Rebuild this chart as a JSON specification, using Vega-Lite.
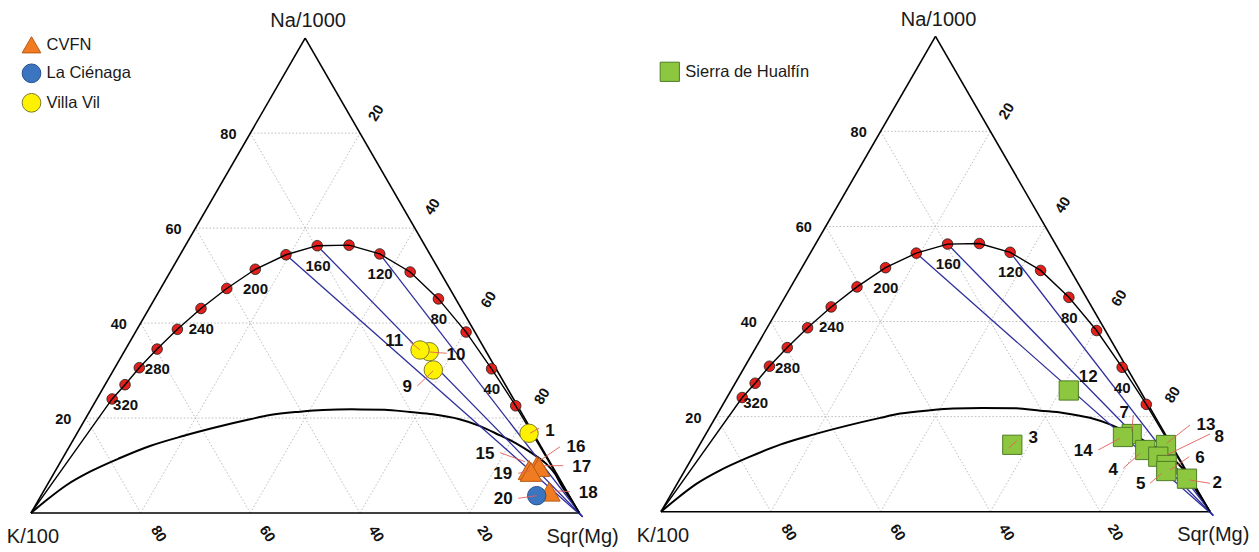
{
  "$schema": "https://vega.github.io/schema/vega-lite/v6.json",
  "padding": 0,
  "spacing": 1,
  "background": "white",
  "config": {"view": {"stroke": null}, "text": {"font": "Liberation Sans"}},
  "datasets": {
    "grid": [
      {"x": 10, "y": 17.32, "x2": 90, "y2": 17.32},
      {"x": 20, "y": 34.64, "x2": 80, "y2": 34.64},
      {"x": 30, "y": 51.96, "x2": 70, "y2": 51.96},
      {"x": 40, "y": 69.28, "x2": 60, "y2": 69.28},
      {"x": 80, "y": 0, "x2": 40, "y2": 69.28},
      {"x": 60, "y": 0, "x2": 30, "y2": 51.96},
      {"x": 40, "y": 0, "x2": 20, "y2": 34.64},
      {"x": 20, "y": 0, "x2": 10, "y2": 17.32},
      {"x": 20, "y": 0, "x2": 60, "y2": 69.28},
      {"x": 40, "y": 0, "x2": 70, "y2": 51.96},
      {"x": 60, "y": 0, "x2": 80, "y2": 34.64},
      {"x": 80, "y": 0, "x2": 90, "y2": 17.32}
    ],
    "frame": [
      {"x": 0, "y": 0, "x2": 100, "y2": 0},
      {"x": 100, "y": 0, "x2": 50, "y2": 86.6},
      {"x": 50, "y": 86.6, "x2": 0, "y2": 0}
    ],
    "immature": [
      {"x": 0, "y": 0}, {"x": 2.86, "y": 2.37}, {"x": 6.51, "y": 5.11}, {"x": 10.76, "y": 7.53},
      {"x": 16.23, "y": 10.03}, {"x": 21.7, "y": 12.22}, {"x": 27.72, "y": 14.04}, {"x": 33.92, "y": 15.68},
      {"x": 39.94, "y": 17.09}, {"x": 43.59, "y": 17.87}, {"x": 49.06, "y": 18.48}, {"x": 53.26, "y": 18.79},
      {"x": 58.5, "y": 18.9}, {"x": 64.5, "y": 18.85}, {"x": 69.12, "y": 18.4}, {"x": 73.28, "y": 18.0},
      {"x": 78.14, "y": 17.1}, {"x": 81.79, "y": 15.9}, {"x": 85.43, "y": 14.2}, {"x": 88.47, "y": 12.7},
      {"x": 91.2, "y": 11.0}, {"x": 93.93, "y": 9.0}, {"x": 95.6, "y": 7.1}, {"x": 96.6, "y": 5.3},
      {"x": 98.4, "y": 2.5}, {"x": 100, "y": 0}
    ],
    "equil": [
      {"kind": "end", "x": 0, "y": 0},
      {"kind": "dot", "x": 14.8, "y": 20.8}, {"kind": "dot", "x": 17.15, "y": 23.4},
      {"kind": "dot", "x": 19.75, "y": 26.5}, {"kind": "dot", "x": 23.0, "y": 29.9},
      {"kind": "dot", "x": 26.7, "y": 33.5}, {"kind": "dot", "x": 31.0, "y": 37.3},
      {"kind": "dot", "x": 35.7, "y": 40.95}, {"kind": "dot", "x": 40.9, "y": 44.45},
      {"kind": "dot", "x": 46.5, "y": 47.1}, {"kind": "dot", "x": 52.2, "y": 48.75},
      {"kind": "dot", "x": 58.0, "y": 48.85}, {"kind": "dot", "x": 63.6, "y": 47.25},
      {"kind": "dot", "x": 69.15, "y": 43.95}, {"kind": "dot", "x": 74.3, "y": 39.05},
      {"kind": "dot", "x": 79.35, "y": 33.0}, {"kind": "dot", "x": 84.0, "y": 26.3},
      {"kind": "dot", "x": 88.4, "y": 19.55},
      {"kind": "end", "x": 100, "y": 0}
    ],
    "tie": [
      {"x": 46.5, "y": 47.1, "x2": 100.6, "y2": -0.7},
      {"x": 52.2, "y": 48.75, "x2": 100.6, "y2": -0.7},
      {"x": 63.6, "y": 47.25, "x2": 100.6, "y2": -0.7}
    ],
    "temps": [
      {"t": "320", "x": 17.25, "y": 19.78}, {"t": "280", "x": 23.05, "y": 26.2},
      {"t": "240", "x": 31.05, "y": 33.6}, {"t": "200", "x": 40.95, "y": 40.77},
      {"t": "160", "x": 52.35, "y": 45.1}, {"t": "120", "x": 63.67, "y": 43.63},
      {"t": "80", "x": 74.37, "y": 35.37}, {"t": "40", "x": 84.03, "y": 22.55}
    ],
    "ticks": [
      {"axis": "Na", "label": "80", "x": 36.0, "y": 68.95},
      {"axis": "Na", "label": "60", "x": 26.0, "y": 51.66},
      {"axis": "Na", "label": "40", "x": 16.0, "y": 34.3},
      {"axis": "Na", "label": "20", "x": 5.9, "y": 16.95},
      {"axis": "Mg", "label": "20", "x": 63.05, "y": 72.9},
      {"axis": "Mg", "label": "40", "x": 73.3, "y": 55.8},
      {"axis": "Mg", "label": "60", "x": 83.55, "y": 38.85},
      {"axis": "Mg", "label": "80", "x": 93.29, "y": 21.24},
      {"axis": "K", "label": "80", "x": 23.2, "y": -3.85},
      {"axis": "K", "label": "60", "x": 43.0, "y": -3.85},
      {"axis": "K", "label": "40", "x": 62.85, "y": -3.85},
      {"axis": "K", "label": "20", "x": 82.7, "y": -3.85}
    ],
    "titles": [
      {"label": "Na/1000", "x": 50.55, "y": 89.65},
      {"label": "K/100", "x": 0.35, "y": -4.4},
      {"label": "Sqr(Mg)", "x": 100.6, "y": -4.3}
    ],
    "ptsA": [
      {"site": "Villa Vil", "id": "1", "x": 90.83, "y": 14.54},
      {"site": "Villa Vil", "id": "9", "x": 73.37, "y": 26.08},
      {"site": "Villa Vil", "id": "10", "x": 72.64, "y": 29.42},
      {"site": "Villa Vil", "id": "11", "x": 70.95, "y": 29.73},
      {"site": "CVFN", "id": "15", "x": 90.83, "y": 7.84},
      {"site": "CVFN", "id": "16", "x": 92.28, "y": 8.57},
      {"site": "CVFN", "id": "17", "x": 92.65, "y": 8.39},
      {"site": "CVFN", "id": "19", "x": 91.19, "y": 7.48},
      {"site": "CVFN", "id": "18", "x": 94.53, "y": 3.88},
      {"site": "La Ciénaga", "id": "20", "x": 92.23, "y": 3.16}
    ],
    "labA": [
      {"id": "1", "x": 94.66, "y": 14.96}, {"id": "9", "x": 68.63, "y": 23.04},
      {"id": "10", "x": 77.51, "y": 28.82}, {"id": "11", "x": 66.26, "y": 31.42},
      {"id": "15", "x": 82.8, "y": 10.76}, {"id": "16", "x": 99.4, "y": 11.98},
      {"id": "17", "x": 100.44, "y": 8.44}, {"id": "19", "x": 86.03, "y": 7.11},
      {"id": "18", "x": 101.64, "y": 3.7}, {"id": "20", "x": 86.14, "y": 2.55}
    ],
    "leadA": [
      {"x": 92.7, "y": 15.5, "x2": 91.01, "y2": 14.54},
      {"x": 70.45, "y": 23.16, "x2": 73.32, "y2": 25.91},
      {"x": 75.82, "y": 29.13, "x2": 72.77, "y2": 29.36},
      {"x": 69.12, "y": 31.24, "x2": 70.95, "y2": 29.73},
      {"x": 85.54, "y": 11.0, "x2": 90.1, "y2": 9.36},
      {"x": 96.48, "y": 12.09, "x2": 92.52, "y2": 9.36},
      {"x": 97.08, "y": 8.63, "x2": 93.43, "y2": 8.63},
      {"x": 88.87, "y": 7.24, "x2": 91.01, "y2": 7.71},
      {"x": 98.3, "y": 3.88, "x2": 95.26, "y2": 4.07},
      {"x": 88.87, "y": 2.68, "x2": 92.23, "y2": 3.16}
    ],
    "ptsB": [
      {"site": "Sierra de Hualfín", "id": "12", "x": 74.28, "y": 22.08},
      {"site": "Sierra de Hualfín", "id": "3", "x": 63.99, "y": 12.19},
      {"site": "Sierra de Hualfín", "id": "7", "x": 85.74, "y": 14.15},
      {"site": "Sierra de Hualfín", "id": "14", "x": 84.15, "y": 13.61},
      {"site": "Sierra de Hualfín", "id": "4", "x": 88.21, "y": 11.24},
      {"site": "Sierra de Hualfín", "id": "13", "x": 91.99, "y": 12.15},
      {"site": "Sierra de Hualfín", "id": "8", "x": 90.58, "y": 10.02},
      {"site": "Sierra de Hualfín", "id": "6", "x": 92.11, "y": 8.51},
      {"site": "Sierra de Hualfín", "id": "5", "x": 92.04, "y": 7.41},
      {"site": "Sierra de Hualfín", "id": "2", "x": 95.81, "y": 6.01}
    ],
    "labB": [
      {"id": "12", "x": 77.83, "y": 24.59}, {"id": "3", "x": 67.81, "y": 13.48},
      {"id": "7", "x": 84.39, "y": 17.92}, {"id": "14", "x": 76.92, "y": 11.06},
      {"id": "4", "x": 82.39, "y": 7.6}, {"id": "13", "x": 99.27, "y": 15.79},
      {"id": "8", "x": 101.69, "y": 13.66}, {"id": "6", "x": 98.18, "y": 9.84},
      {"id": "5", "x": 87.38, "y": 5.05}, {"id": "2", "x": 101.33, "y": 5.17}
    ],
    "leadB": [
      {"x": 96.36, "y": 15.79, "x2": 92.11, "y2": 12.46},
      {"x": 100.0, "y": 14.15, "x2": 92.11, "y2": 10.33},
      {"x": 96.23, "y": 10.02, "x2": 92.71, "y2": 7.6},
      {"x": 100.0, "y": 5.17, "x2": 96.36, "y2": 5.77},
      {"x": 89.07, "y": 5.17, "x2": 91.2, "y2": 7.0},
      {"x": 84.21, "y": 7.91, "x2": 87.25, "y2": 10.64},
      {"x": 79.65, "y": 11.24, "x2": 83.61, "y2": 13.37},
      {"x": 86.03, "y": 17.61, "x2": 85.74, "y2": 14.57},
      {"x": 63.3, "y": 11.6, "x2": 64.8, "y2": 12.9}
    ]
  },
  "resolve": {
    "scale": {"x": "independent", "y": "independent", "fill": "independent", "stroke": "independent", "shape": "independent"},
    "legend": {"fill": "independent", "stroke": "independent", "shape": "independent"}
  },
  "hconcat": [
    {
      "width": 629,
      "height": 552,
      "encoding": {
        "x": {"field": "x", "type": "quantitative", "scale": {"domain": [-5.654, 109.06], "nice": false, "zero": false}, "axis": null},
        "y": {"field": "y", "type": "quantitative", "scale": {"domain": [-7.113, 93.56], "nice": false, "zero": false}, "axis": null}
      },
      "layer": [
        {"data": {"name": "grid"}, "mark": {"type": "rule", "color": "#b4b4b4", "strokeWidth": 0.9, "strokeDash": [1.5, 2]}, "encoding": {"x2": {"field": "x2"}, "y2": {"field": "y2"}}},
        {"data": {"name": "frame"}, "mark": {"type": "rule", "color": "#000000", "strokeWidth": 1.6}, "encoding": {"x2": {"field": "x2"}, "y2": {"field": "y2"}}},
        {"data": {"name": "immature"}, "mark": {"type": "line", "color": "#000000", "strokeWidth": 2, "interpolate": "monotone"}, "encoding": {}},
        {"data": {"name": "tie"}, "mark": {"type": "rule", "color": "#2e2e9c", "strokeWidth": 1.3}, "encoding": {"x2": {"field": "x2"}, "y2": {"field": "y2"}}},
        {"data": {"name": "equil"}, "transform": [{"filter": "datum.kind == 'dot'"}], "mark": {"type": "point", "filled": true, "opacity": 1, "fill": "#e3201b", "stroke": "#1a1a1a", "strokeWidth": 0.8, "size": 112}, "encoding": {}},
        {"data": {"name": "equil"}, "mark": {"type": "line", "color": "#000000", "strokeWidth": 1.4}, "encoding": {}},
        {"data": {"name": "temps"}, "mark": {"type": "text", "fontSize": 15, "fontWeight": "bold", "color": "#111111", "align": "center", "baseline": "middle"}, "encoding": {"text": {"field": "t"}}},
        {"data": {"name": "ticks"}, "transform": [{"filter": "datum.axis == 'Na'"}], "mark": {"type": "text", "fontSize": 14.5, "fontWeight": "bold", "color": "#111111", "align": "center", "baseline": "middle"}, "encoding": {"text": {"field": "label"}}},
        {"data": {"name": "ticks"}, "transform": [{"filter": "datum.axis == 'Mg'"}], "mark": {"type": "text", "fontSize": 14.5, "fontWeight": "bold", "color": "#111111", "align": "center", "baseline": "middle", "angle": -58}, "encoding": {"text": {"field": "label"}}},
        {"data": {"name": "ticks"}, "transform": [{"filter": "datum.axis == 'K'"}], "mark": {"type": "text", "fontSize": 14.5, "fontWeight": "bold", "color": "#111111", "align": "center", "baseline": "middle", "angle": 58}, "encoding": {"text": {"field": "label"}}},
        {"data": {"name": "titles"}, "mark": {"type": "text", "fontSize": 20, "color": "#1a1a1a", "align": "center", "baseline": "middle"}, "encoding": {"text": {"field": "label"}}},
        {
          "data": {"name": "ptsA"},
          "mark": {"type": "point", "filled": true, "opacity": 1, "strokeWidth": 1},
          "encoding": {
            "size": {"condition": {"test": "datum.site == 'CVFN'", "value": 470}, "value": 340},
            "fill": {"field": "site", "type": "nominal", "scale": {"domain": ["CVFN", "La Ciénaga", "Villa Vil"], "range": ["#F07B20", "#3B74BF", "#FFF200"]},
              "legend": {"title": null, "orient": "none", "legendX": 21.5, "legendY": 34.8, "padding": 0, "labelFont": "Liberation Sans", "labelFontSize": 16.5, "labelColor": "#1a1a1a", "symbolSize": 350, "symbolStrokeWidth": 1, "rowPadding": 5.5, "labelOffset": 5}},
            "stroke": {"field": "site", "type": "nominal", "scale": {"domain": ["CVFN", "La Ciénaga", "Villa Vil"], "range": ["#B85A14", "#24528F", "#7F7D2A"]},
              "legend": {"title": null, "orient": "none", "legendX": 21.5, "legendY": 34.8, "padding": 0, "labelFont": "Liberation Sans", "labelFontSize": 16.5, "labelColor": "#1a1a1a", "symbolSize": 350, "symbolStrokeWidth": 1, "rowPadding": 5.5, "labelOffset": 5}},
            "shape": {"field": "site", "type": "nominal", "scale": {"domain": ["CVFN", "La Ciénaga", "Villa Vil"], "range": ["triangle-up", "circle", "circle"]},
              "legend": {"title": null, "orient": "none", "legendX": 21.5, "legendY": 34.8, "padding": 0, "labelFont": "Liberation Sans", "labelFontSize": 16.5, "labelColor": "#1a1a1a", "symbolSize": 350, "symbolStrokeWidth": 1, "rowPadding": 5.5, "labelOffset": 5}}
          }
        },
        {"data": {"name": "leadA"}, "mark": {"type": "rule", "color": "#e0605a", "strokeWidth": 0.9}, "encoding": {"x2": {"field": "x2"}, "y2": {"field": "y2"}}},
        {"data": {"name": "labA"}, "mark": {"type": "text", "fontSize": 17, "fontWeight": "bold", "color": "#111111", "align": "center", "baseline": "middle"}, "encoding": {"text": {"field": "id"}}}
      ]
    },
    {
      "width": 629,
      "height": 552,
      "encoding": {
        "x": {"field": "x", "type": "quantitative", "scale": {"domain": [-5.647, 108.93], "nice": false, "zero": false}, "axis": null},
        "y": {"field": "y", "type": "quantitative", "scale": {"domain": [-7.34, 93.21], "nice": false, "zero": false}, "axis": null}
      },
      "layer": [
        {"data": {"name": "grid"}, "mark": {"type": "rule", "color": "#b4b4b4", "strokeWidth": 0.9, "strokeDash": [1.5, 2]}, "encoding": {"x2": {"field": "x2"}, "y2": {"field": "y2"}}},
        {"data": {"name": "frame"}, "mark": {"type": "rule", "color": "#000000", "strokeWidth": 1.6}, "encoding": {"x2": {"field": "x2"}, "y2": {"field": "y2"}}},
        {"data": {"name": "immature"}, "mark": {"type": "line", "color": "#000000", "strokeWidth": 2, "interpolate": "monotone"}, "encoding": {}},
        {"data": {"name": "tie"}, "mark": {"type": "rule", "color": "#2e2e9c", "strokeWidth": 1.3}, "encoding": {"x2": {"field": "x2"}, "y2": {"field": "y2"}}},
        {"data": {"name": "equil"}, "transform": [{"filter": "datum.kind == 'dot'"}], "mark": {"type": "point", "filled": true, "opacity": 1, "fill": "#e3201b", "stroke": "#1a1a1a", "strokeWidth": 0.8, "size": 112}, "encoding": {}},
        {"data": {"name": "equil"}, "mark": {"type": "line", "color": "#000000", "strokeWidth": 1.4}, "encoding": {}},
        {"data": {"name": "temps"}, "mark": {"type": "text", "fontSize": 15, "fontWeight": "bold", "color": "#111111", "align": "center", "baseline": "middle"}, "encoding": {"text": {"field": "t"}}},
        {"data": {"name": "ticks"}, "transform": [{"filter": "datum.axis == 'Na'"}], "mark": {"type": "text", "fontSize": 14.5, "fontWeight": "bold", "color": "#111111", "align": "center", "baseline": "middle"}, "encoding": {"text": {"field": "label"}}},
        {"data": {"name": "ticks"}, "transform": [{"filter": "datum.axis == 'Mg'"}], "mark": {"type": "text", "fontSize": 14.5, "fontWeight": "bold", "color": "#111111", "align": "center", "baseline": "middle", "angle": -58}, "encoding": {"text": {"field": "label"}}},
        {"data": {"name": "ticks"}, "transform": [{"filter": "datum.axis == 'K'"}], "mark": {"type": "text", "fontSize": 14.5, "fontWeight": "bold", "color": "#111111", "align": "center", "baseline": "middle", "angle": 58}, "encoding": {"text": {"field": "label"}}},
        {"data": {"name": "titles"}, "mark": {"type": "text", "fontSize": 20, "color": "#1a1a1a", "align": "center", "baseline": "middle"}, "encoding": {"text": {"field": "label"}}},
        {
          "data": {"name": "ptsB"},
          "mark": {"type": "point", "filled": true, "opacity": 1, "size": 370, "strokeWidth": 1},
          "encoding": {
            "fill": {"field": "site", "type": "nominal", "scale": {"domain": ["Sierra de Hualfín"], "range": ["#8DC63F"]},
              "legend": {"title": null, "orient": "none", "legendX": 29.3, "legendY": 61.3, "padding": 0, "labelFont": "Liberation Sans", "labelFontSize": 16.5, "labelColor": "#1a1a1a", "symbolSize": 370, "symbolStrokeWidth": 1, "rowPadding": 5.5, "labelOffset": 5}},
            "stroke": {"field": "site", "type": "nominal", "scale": {"domain": ["Sierra de Hualfín"], "range": ["#4E7D26"]},
              "legend": {"title": null, "orient": "none", "legendX": 29.3, "legendY": 61.3, "padding": 0, "labelFont": "Liberation Sans", "labelFontSize": 16.5, "labelColor": "#1a1a1a", "symbolSize": 370, "symbolStrokeWidth": 1, "rowPadding": 5.5, "labelOffset": 5}},
            "shape": {"field": "site", "type": "nominal", "scale": {"domain": ["Sierra de Hualfín"], "range": ["square"]},
              "legend": {"title": null, "orient": "none", "legendX": 29.3, "legendY": 61.3, "padding": 0, "labelFont": "Liberation Sans", "labelFontSize": 16.5, "labelColor": "#1a1a1a", "symbolSize": 370, "symbolStrokeWidth": 1, "rowPadding": 5.5, "labelOffset": 5}}
          }
        },
        {"data": {"name": "leadB"}, "mark": {"type": "rule", "color": "#e0605a", "strokeWidth": 0.9}, "encoding": {"x2": {"field": "x2"}, "y2": {"field": "y2"}}},
        {"data": {"name": "labB"}, "mark": {"type": "text", "fontSize": 17, "fontWeight": "bold", "color": "#111111", "align": "center", "baseline": "middle"}, "encoding": {"text": {"field": "id"}}}
      ]
    }
  ]
}
